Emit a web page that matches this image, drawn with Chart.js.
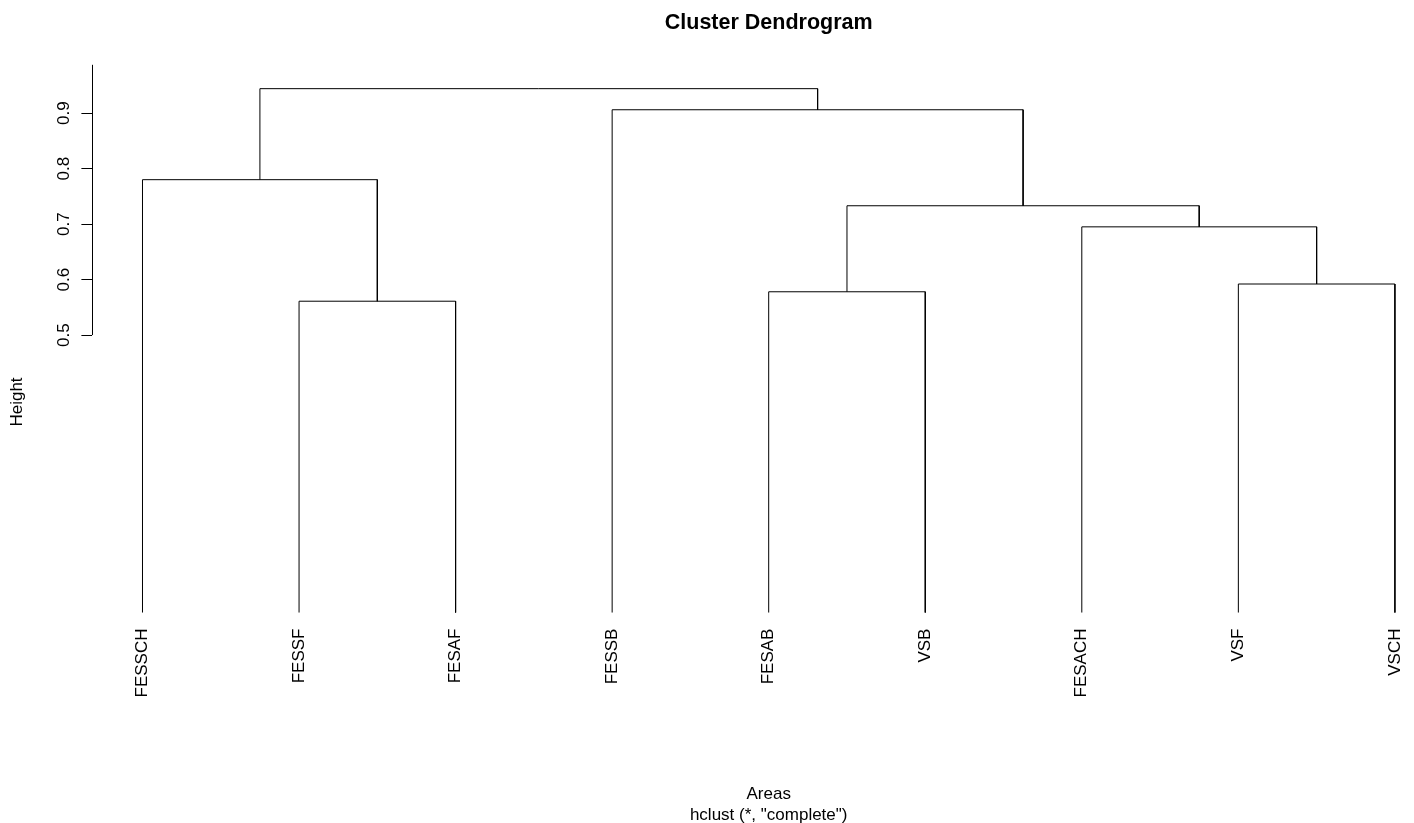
<!DOCTYPE html>
<html>
<head>
<meta charset="utf-8">
<script src="https://cdn.jsdelivr.net/npm/chart.js@4"></script>
<style>
  html, body { margin: 0; padding: 0; overflow: hidden; background: #fff; }
  #wrap { width: 1445px; height: 823px; }
</style>
</head>
<body>
<div id="wrap"><canvas id="myChart"></canvas></div>
<script>
const ctx = document.getElementById('myChart');

// leaves in plotted order
const leafLabels = ['FESSCH', 'FESSF', 'FESAF', 'FESSB', 'FESAB', 'VSB', 'FESACH', 'VSF', 'VSCH'];
// merges, hclust style: negative = leaf (1-based position), positive = earlier merge
const mergeLeft  = [-2, -5, -8, -7, 2, -1, -4, 6];
const mergeRight = [-3, -6, -9, 3, 4, 1, 5, 7];
const mergeHeight = [0.561, 0.578, 0.592, 0.695, 0.733, 0.780, 0.906, 0.944];
const yTicks = [0.5, 0.6, 0.7, 0.8, 0.9];

Chart.defaults.font.family = '"Liberation Sans", Arial, sans-serif';
Chart.defaults.color = '#000';

const font = { size: 17 };

const nodeX = [];
const nodeH = [];
function nodePos(id) {
  if (id < 0) return [-id - 1, 0];
  return [nodeX[id - 1], nodeH[id - 1]];
}

const datasets = mergeHeight.map((h, k) => {
  const [xl, hl] = nodePos(mergeLeft[k]);
  const [xr, hr] = nodePos(mergeRight[k]);
  nodeX[k] = (xl + xr) / 2;
  nodeH[k] = h;
  return {
    data: [{x: xl, y: hl}, {x: xl, y: h}, {x: xr, y: h}, {x: xr, y: hr}],
    showLine: true,
    borderColor: '#000',
    borderWidth: 1,
    pointRadius: 0,
    tension: 0,
    clip: false
  };
});

// axis line only over the tick range + the Height label
const extras = {
  id: 'extras',
  afterDraw(chart) {
    const c = chart.ctx;
    const y = chart.scales.y;
    c.save();
    c.strokeStyle = '#000';
    c.lineWidth = 1;
    const xa = Math.round(y.right) + 0.5;
    c.beginPath();
    c.moveTo(xa, y.getPixelForValue(yTicks[0]));
    c.lineTo(xa, y.top);
    c.stroke();
    c.translate(17, 402);
    c.rotate(-Math.PI / 2);
    c.font = '17px "Liberation Sans", Arial, sans-serif';
    c.fillStyle = '#000';
    c.textAlign = 'center';
    c.textBaseline = 'middle';
    c.fillText('Height', 0, 0);
    c.restore();
  }
};

new Chart(ctx, {
  type: 'scatter',
  data: { datasets: datasets },
  plugins: [extras],
  options: {
    responsive: true,
    maintainAspectRatio: false,
    animation: false,
    layout: { padding: { left: 51, right: 0, top: 0, bottom: 0 } },
    plugins: {
      legend: { display: false },
      tooltip: { enabled: false },
      title: {
        display: true,
        fullSize: false,
        text: 'Cluster Dendrogram',
        color: '#000',
        font: { size: 21.5, weight: 'bold' },
        padding: { top: 10, bottom: 29 }
      }
    },
    scales: {
      x: {
        type: 'linear',
        min: -0.32,
        max: leafLabels.length - 1 + 0.32,
        afterBuildTicks: s => { s.ticks = leafLabels.map((_, i) => ({ value: i })); },
        grid: { display: false, drawTicks: false },
        border: { display: false },
        ticks: {
          autoSkip: false,
          minRotation: 90,
          maxRotation: 90,
          padding: 16,
          font: font,
          color: '#000',
          callback: (v, i) => leafLabels[i]
        },
        title: {
          display: true,
          text: ['Areas', 'hclust (*, "complete")'],
          color: '#000',
          font: { size: 17, lineHeight: 1.25 },
          padding: { top: 70, bottom: -3 }
        }
      },
      y: {
        type: 'linear',
        min: 0,
        max: 0.987,
        afterBuildTicks: s => { s.ticks = yTicks.map(v => ({ value: v })); },
        border: { display: false },
        grid: { drawOnChartArea: false, drawTicks: true, tickLength: 11, color: '#000' },
        ticks: {
          minRotation: 90,
          maxRotation: 90,
          crossAlign: 'center',
          padding: 5,
          font: font,
          color: '#000',
          callback: v => v.toFixed(1)
        }
      }
    }
  }
});
</script>
</body>
</html>
